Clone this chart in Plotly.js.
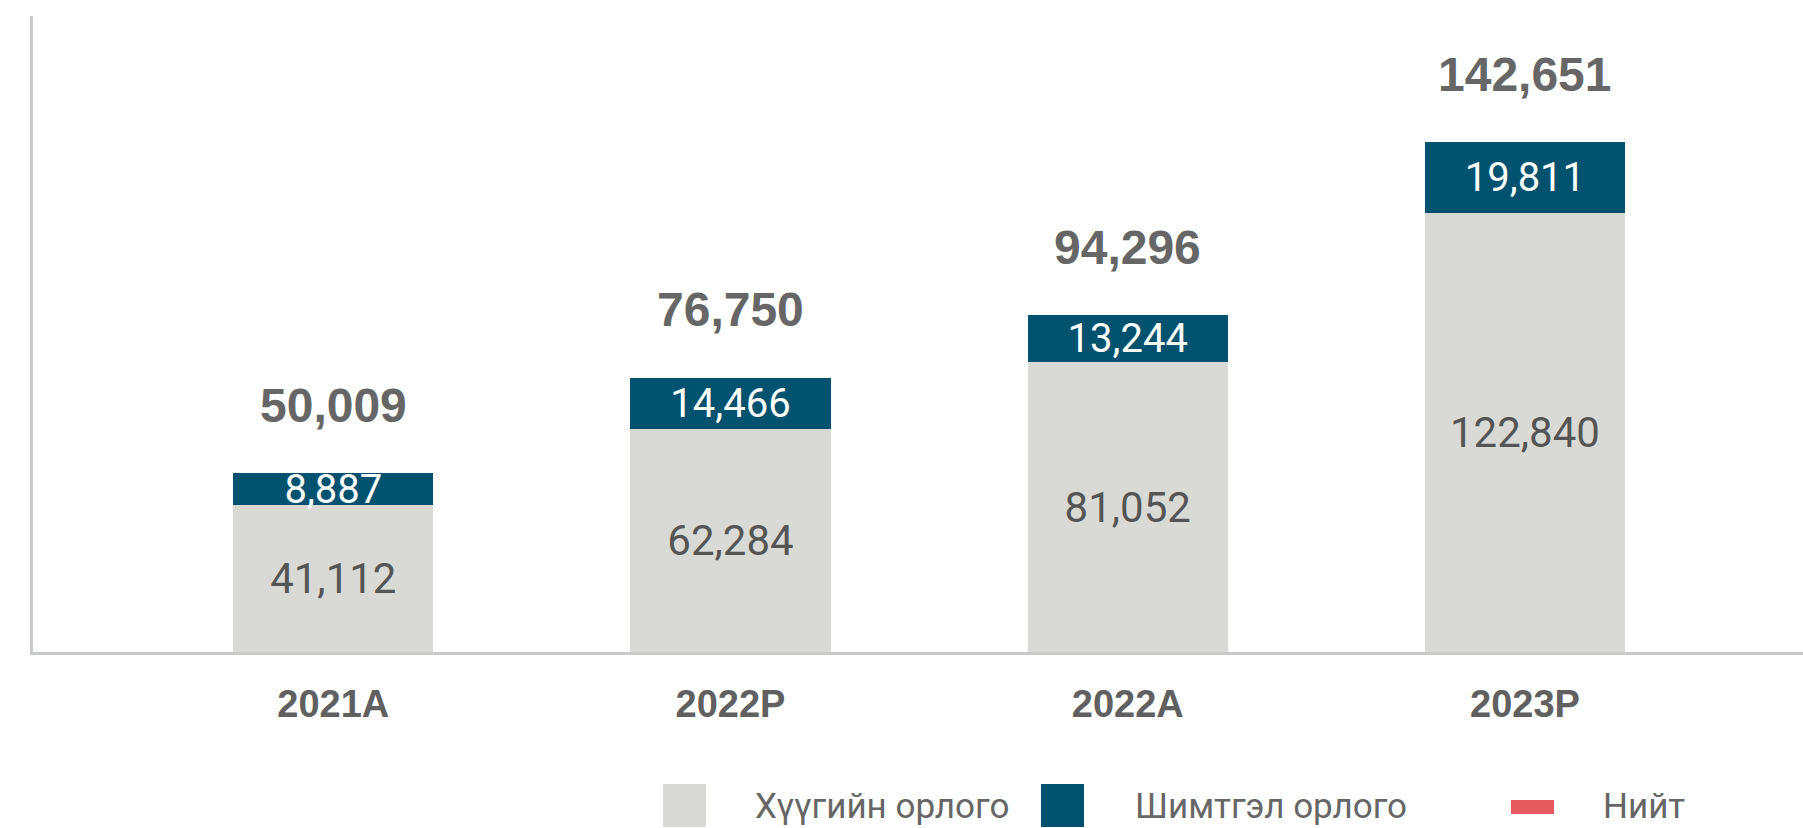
<!DOCTYPE html>
<html>
<head>
<meta charset="utf-8">
<script src="https://cdn.plot.ly/plotly-3.0.1.min.js"></script>
<style>html,body{margin:0;padding:0;background:#fff;}#chart{width:1803px;height:828px;}</style>
</head>
<body>
<div id="chart"></div>
<script>
const categories = ['2021A', '2022P', '2022A', '2023P'];
const interestIncome = [41112, 62284, 81052, 122840];
const feeIncome = [8887, 14466, 13244, 19811];
const totals = [50009, 76750, 94296, 142651];
const seriesNames = ['Хүүгийн орлого', 'Шимтгэл орлого', 'Нийт'];
const seriesColors = ['#d9dad6', '#01526e', '#e45a5f'];

const W = 1803, H = 828, L = 33, T = 16, B = 176, R = 0;
const px = x => (x - L) / (W - L - R);
const py = y => (H - B - y) / (H - T - B);

const traces = [
  {
    type: 'bar', name: seriesNames[0], x: categories, y: interestIncome,
    marker: {color: seriesColors[0]},
    texttemplate: '%{y:,.0f}', textposition: 'inside', insidetextanchor: 'middle',
    constraintext: 'none',
    textfont: {family: 'Roboto, sans-serif', size: 42, color: '#555555'},
    hoverinfo: 'skip'
  },
  {
    type: 'bar', name: seriesNames[1], x: categories, y: feeIncome,
    marker: {color: seriesColors[1]},
    texttemplate: '%{y:,.0f}', textposition: 'inside', insidetextanchor: 'middle',
    constraintext: 'none',
    textfont: {family: 'Roboto, sans-serif', size: 40, color: '#ffffff'},
    hoverinfo: 'skip'
  },
  {
    type: 'scatter', name: seriesNames[2], x: categories, y: totals,
    mode: 'none', hoverinfo: 'skip'
  }
];

const annotations = categories.map((c, i) => ({
  x: c, y: totals[i], xref: 'x', yref: 'y',
  text: totals[i].toLocaleString('en-US'),
  showarrow: false, yanchor: 'middle', yshift: 68,
  font: {family: 'Liberation Sans, Arial, sans-serif', size: 48, color: '#666666', weight: 'bold'}
}));

// custom legend
const legendItems = [
  {box: [663, 784, 706, 827], textX: 753},
  {box: [1041, 784, 1084, 827], textX: 1133},
  {box: [1511, 800, 1554, 814], textX: 1601}
];
const shapes = [];
legendItems.forEach((it, i) => {
  shapes.push({
    type: 'rect', xref: 'paper', yref: 'paper',
    x0: px(it.box[0]), x1: px(it.box[2]), y0: py(it.box[3]), y1: py(it.box[1]),
    fillcolor: seriesColors[i], line: {width: 0}
  });
  annotations.push({
    xref: 'paper', yref: 'paper', x: px(it.textX), y: py(806),
    xanchor: 'left', yanchor: 'middle', showarrow: false,
    text: seriesNames[i],
    font: {family: 'Roboto, sans-serif', size: 35, color: '#666666'}
  });
});

const layout = {
  width: W, height: H,
  margin: {l: L, r: R, t: T, b: B, pad: 0},
  paper_bgcolor: '#ffffff', plot_bgcolor: '#ffffff',
  barmode: 'stack', bargap: 0.496,
  showlegend: false,
  xaxis: {
    type: 'category', range: [-0.756, 3.70],
    showline: true, linecolor: '#c9cacc', linewidth: 3,
    showgrid: false, zeroline: false,
    ticks: 'outside', ticklen: 0, ticklabelstandoff: 16,
    tickfont: {family: 'Liberation Sans, Arial, sans-serif', size: 38, color: '#606060', weight: 'bold'},
    fixedrange: true
  },
  yaxis: {
    range: [0, 178000],
    showline: true, linecolor: '#c9cacc', linewidth: 3,
    showgrid: false, zeroline: false, showticklabels: false, ticks: '',
    fixedrange: true
  },
  shapes: shapes,
  annotations: annotations
};

Plotly.newPlot('chart', traces, layout, {displayModeBar: false, staticPlot: true});
</script>
</body>
</html>
